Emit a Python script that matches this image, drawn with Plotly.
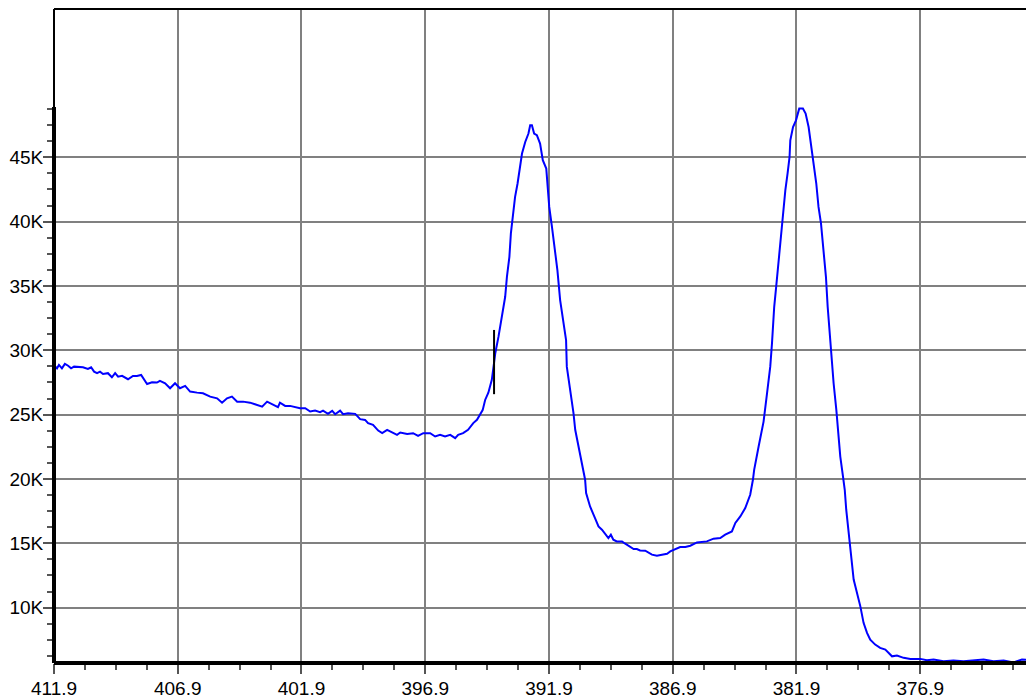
import numpy as np
import plotly.graph_objects as go

# ---------------- data (wavelength in nm, intensity in thousands of counts) ----------------
wavelength = [
    411.90, 411.78, 411.70, 411.58, 411.46, 411.33, 411.21, 411.09, 410.73, 410.53,
    410.40, 410.28, 410.16, 410.04, 409.92, 409.72, 409.56, 409.43, 409.31, 409.15,
    408.91, 408.71, 408.55, 408.38, 408.14, 407.94, 407.74, 407.62, 407.41, 407.21,
    407.01, 406.81, 406.60, 406.40, 406.12, 405.88, 405.59, 405.31, 405.11, 404.91,
    404.71, 404.50, 404.26, 403.98, 403.78, 403.49, 403.29, 403.17, 403.05, 402.85,
    402.77, 402.56, 402.36, 402.16, 401.96, 401.75, 401.55, 401.35, 401.15, 401.03,
    400.83, 400.66, 400.54, 400.34, 400.22, 400.02, 399.73, 399.53, 399.33, 399.21,
    399.01, 398.80, 398.64, 398.44, 398.24, 398.04, 397.91, 397.63, 397.39, 397.19,
    396.98, 396.70, 396.50, 396.30, 396.10, 395.89, 395.69, 395.57, 395.37, 395.17,
    394.96, 394.81, 394.58, 394.48, 394.35, 394.21, 394.14, 394.07, 393.94, 393.80,
    393.67, 393.60, 393.50, 393.44, 393.36, 393.27, 393.17, 393.06, 392.99, 392.86,
    392.73, 392.66, 392.59, 392.50, 392.39, 392.26, 392.15, 392.01, 391.96, 391.89,
    391.78, 391.65, 391.56, 391.45, 391.34, 391.21, 391.18, 391.08, 390.91, 390.84,
    390.71, 390.57, 390.44, 390.40, 390.24, 390.04, 389.90, 389.76, 389.59, 389.50,
    389.40, 389.30, 389.16, 388.95, 388.82, 388.62, 388.48, 388.35, 388.22, 388.01,
    387.88, 387.74, 387.54, 387.34, 387.13, 387.00, 386.80, 386.60, 386.39, 386.19,
    385.92, 385.72, 385.52, 385.25, 384.98, 384.78, 384.51, 384.37, 384.17, 383.97,
    383.84, 383.77, 383.66, 383.61, 383.43, 383.23, 383.09, 382.96, 382.89, 382.85,
    382.80, 382.72, 382.62, 382.53, 382.45, 382.35, 382.26, 382.18, 382.15, 382.04,
    381.92, 381.79, 381.64, 381.53, 381.41, 381.34, 381.23, 381.10, 381.01, 380.91,
    380.81, 380.71, 380.64, 380.57, 380.49, 380.40, 380.29, 380.20, 380.13, 380.02,
    379.95, 379.89, 379.73, 379.59, 379.32, 379.19, 379.05, 378.92, 378.72, 378.52,
    378.31, 378.04, 377.84, 377.57, 377.30, 376.90, 376.63, 376.36, 375.96, 375.56,
    375.15, 374.75, 374.34, 373.94, 373.53, 373.13, 372.79, 372.32, 371.98,
]
intensity_k = [
    28.82, 28.60, 28.86, 28.60, 28.94, 28.80, 28.60, 28.73, 28.68, 28.55,
    28.68, 28.34, 28.22, 28.34, 28.16, 28.22, 27.90, 28.22, 27.95, 28.01,
    27.75, 28.01, 28.01, 28.08, 27.38, 27.52, 27.49, 27.62, 27.44, 27.05,
    27.44, 27.05, 27.23, 26.79, 26.71, 26.66, 26.40, 26.27, 25.93, 26.27,
    26.40, 26.01, 26.01, 25.93, 25.81, 25.62, 26.01, 25.89, 25.76, 25.58,
    25.93, 25.68, 25.68, 25.58, 25.50, 25.50, 25.24, 25.31, 25.19, 25.31,
    25.06, 25.29, 25.03, 25.31, 25.03, 25.11, 25.06, 24.65, 24.59, 24.34,
    24.20, 23.76, 23.56, 23.82, 23.61, 23.43, 23.61, 23.50, 23.56, 23.35,
    23.56, 23.56, 23.30, 23.43, 23.30, 23.43, 23.17, 23.43, 23.56, 23.82,
    24.34, 24.60, 25.35, 26.14, 26.70, 27.70, 28.73, 29.77, 31.06, 32.61,
    34.16, 35.71, 37.26, 39.08, 40.37, 41.92, 42.96, 44.25, 45.29, 46.19,
    46.84, 47.48, 47.48, 46.84, 46.71, 46.06, 44.77, 44.12, 42.96, 41.14,
    39.59, 37.78, 36.23, 33.90, 32.61, 30.80, 28.73, 27.44, 25.11, 23.82,
    22.52, 21.23, 19.94, 18.90, 17.86, 16.96, 16.31, 16.06, 15.67, 15.41,
    15.67, 15.28, 15.15, 15.15, 14.97, 14.71, 14.56, 14.56, 14.45, 14.43,
    14.29, 14.12, 14.04, 14.12, 14.19, 14.37, 14.56, 14.71, 14.71, 14.81,
    15.07, 15.10, 15.15, 15.36, 15.41, 15.67, 15.92, 16.58, 17.09, 17.74,
    18.51, 18.77, 19.94, 20.71, 22.52, 24.46, 26.66, 28.73, 30.54, 32.10,
    33.38, 34.94, 37.01, 39.08, 40.37, 42.44, 43.74, 45.02, 46.32, 47.35,
    47.87, 48.78, 48.78, 48.39, 47.35, 46.32, 44.77, 42.96, 41.14, 39.86,
    37.78, 35.71, 33.38, 31.58, 29.50, 27.44, 25.37, 23.30, 21.74, 20.19,
    19.16, 17.61, 14.89, 12.18, 10.10, 8.82, 8.04, 7.52, 7.13, 6.87,
    6.74, 6.22, 6.28, 6.10, 6.02, 6.02, 5.91, 5.97, 5.84, 5.89,
    5.84, 5.91, 5.97, 5.84, 5.89, 5.75, 5.97, 5.91, 5.88,
]

# cursor marker
cursor_x = [394.12, 394.12]
cursor_y = [26.59, 31.58]

x_ticks = [411.9, 406.9, 401.9, 396.9, 391.9, 386.9, 381.9, 376.9]
x_tick_labels = ["411.9", "406.9", "401.9", "396.9", "391.9", "386.9", "381.9", "376.9"]
y_ticks = [10, 15, 20, 25, 30, 35, 40, 45]
y_tick_labels = ["10K", "15K", "20K", "25K", "30K", "35K", "40K", "45K"]

x_range = [411.9, 371.98]
y_range = [5.7, 56.52]
data_top = 48.9  # top of the thick axis segment

x_minor = list(np.round(np.arange(411.9, 371.9, -1.25), 3))
y_minor = list(np.round(np.arange(6.25, 49.0, 1.25), 3))

font_family = "Liberation Sans, Arial, sans-serif"

fig = go.Figure()
fig.add_trace(go.Scatter(x=wavelength, y=intensity_k, mode="lines",
                         line=dict(color="#0000FF", width=2), hoverinfo="skip"))
fig.add_trace(go.Scatter(x=cursor_x, y=cursor_y, mode="lines",
                         line=dict(color="#000000", width=2), hoverinfo="skip"))

axis_common = dict(
    ticks="outside", ticklen=10, tickwidth=1.5, tickcolor="#555555",
    showgrid=True, gridcolor="#808080", gridwidth=2,
    showline=False, zeroline=False, automargin=False,
    tickfont=dict(family=font_family, size=19, color="#000000"),
)

fig.update_xaxes(range=x_range, tickmode="array", tickvals=x_ticks, ticktext=x_tick_labels,
                 ticklabelstandoff=-2,
                 minor=dict(tickmode="array", tickvals=x_minor, ticks="outside", ticklen=6,
                            tickwidth=1.5, tickcolor="#555555", showgrid=False),
                 **axis_common)
fig.update_yaxes(range=y_range, tickmode="array", tickvals=y_ticks, ticktext=y_tick_labels,
                 ticklabelstandoff=-4,
                 minor=dict(tickmode="array", tickvals=y_minor, ticks="outside", ticklen=6,
                            tickwidth=1.5, tickcolor="#555555", showgrid=False),
                 **axis_common)

frac_top = (data_top - y_range[0]) / (y_range[1] - y_range[0])
shapes = [
    dict(type="line", xref="paper", yref="paper", x0=0, x1=1, y0=0, y1=0,
         line=dict(color="black", width=4), layer="above"),
    dict(type="line", xref="paper", yref="paper", x0=0, x1=0, y0=0, y1=frac_top,
         line=dict(color="black", width=4), layer="above"),
    dict(type="line", xref="paper", yref="paper", x0=0, x1=0, y0=frac_top, y1=1,
         line=dict(color="black", width=2), layer="above"),
    dict(type="line", xref="paper", yref="paper", x0=0, x1=1, y0=1, y1=1,
         line=dict(color="black", width=2), layer="above"),
]

# the page body has an 8px default margin; the plot runs past the right window edge
fig.update_layout(
    width=1034, height=692,
    margin=dict(l=46, r=0, t=1, b=37, pad=0, autoexpand=False),
    plot_bgcolor="white", paper_bgcolor="white",
    showlegend=False, shapes=shapes,
)

fig.write_html("out.html")
